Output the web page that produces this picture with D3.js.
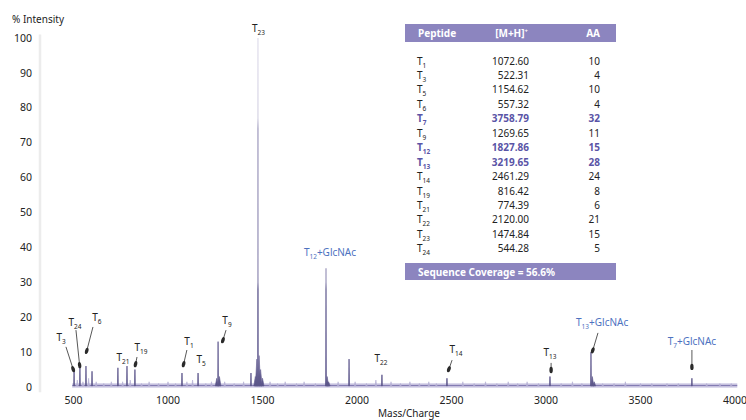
<!DOCTYPE html>
<html>
<head>
<meta charset="utf-8">
<script src="https://cdn.jsdelivr.net/npm/d3@7"></script>
<style>
body{margin:0;background:#fff}
svg{display:block;font-family:"Noto Sans",sans-serif}
</style>
</head>
<body>
<script>
// peaks (m/z, % intensity)
var peakMz  = [503, 534, 566, 598, 735, 783, 825, 1074, 1159, 1265, 1439, 1476, 1836, 1958, 2132, 2476, 3021, 3238, 3772]
var peakInt = [4.5, 5.5, 6, 4.5, 5.5, 6, 5, 4, 4, 13, 4, 100, 34, 8, 3.5, 2.5, 3, 10, 2.5]
// broad shoulders under the big peaks
var shoulderMz  = [1258, 1272, 1462, 1470, 1482, 1490, 1500, 1842, 1850, 3245, 3255]
var shoulderInt = [2.5, 3, 3, 8, 9, 5, 2.5, 3, 1.5, 3, 1.5]
// small baseline bumps
var noiseMz  = [520, 550, 580, 620, 660, 700, 760, 800, 860, 900, 950, 1000, 1040, 1100, 1130, 1200, 1230, 1300, 1350, 1400,
                1540, 1580, 1620, 1680, 1720, 1780, 1900, 1990, 2050, 2100, 2180, 2230, 2280, 2330, 2380, 2420, 2560, 2620,
                2680, 2740, 2800, 2850, 2900, 2960, 3080, 3140, 3190, 3300, 3360, 3420, 3500, 3560, 3640, 3700, 3850, 3920, 3980]
var noiseInt = [2, 1.5, 2.5, 1.5, 1, 1.5, 1.5, 2, 1, 1.5, 1, 1.5, 1, 1.5, 2, 1, 1.5, 1.5, 1, 1.5,
                1.5, 1, 1.5, 1, 1.5, 1, 1.5, 1.5, 1, 2, 1.5, 1, 1.5, 1, 1.5, 1, 1.5, 1,
                1.5, 1, 1.5, 1, 1.5, 1, 1, 1.5, 1, 1, 1, 1.5, 1, 1, 1, 1, 1, 1, 1]

var xTicks = [500, 1000, 1500, 2000, 2500, 3000, 3500, 4000]
var yTicks = [0, 10, 20, 30, 40, 50, 60, 70, 80, 90, 100]

// peak annotations: label centre and optional arrow, all in data units
var annoSub    = ["3", "24", "6", "21", "19", "1", "5", "9", "23", "12", "22", "14", "13", "13", "7"]
var annoSuffix = ["", "", "", "", "", "", "", "", "", "+GlcNAc", "", "", "", "+GlcNAc", "+GlcNAc"]
var annoMz     = [434, 508, 624, 762, 857, 1111, 1175, 1312, 1479, 1857, 2127, 2524, 3021, 3297, 3772]
var annoInt    = [14, 18.3, 19.8, 8.3, 11.2, 12.9, 7.7, 18.9, 102.6, 38.4, 8, 10.6, 9.7, 18.3, 12.9]
var arrowFromMz  = [460, 513, 603, null, 836, 1100, null, 1307, null, null, null, 2503, 3027, 3275, 3772]
var arrowFromInt = [11.5, 16.3, 17.2, null, 8.6, 10.6, null, 16.3, null, null, null, 7.7, 6.9, 15.5, 10.6]
var arrowToMz    = [503, 534, 566, null, 825, 1079, null, 1286, null, null, null, 2481, 3027, 3243, 3772]
var arrowToInt   = [4.3, 5.4, 9.5, null, 5.7, 5.7, null, 12.6, null, null, null, 4.3, 4, 9.7, 4.9]

// table
var tablePeptide = ["1", "3", "5", "6", "7", "9", "12", "13", "14", "19", "21", "22", "23", "24"]
var tableMass = ["1072.60", "522.31", "1154.62", "557.32", "3758.79", "1269.65", "1827.86", "3219.65", "2461.29", "816.42", "774.39", "2120.00", "1474.84", "544.28"]
var tableAA = [10, 4, 10, 4, 32, 11, 15, 28, 24, 8, 6, 21, 15, 5]
var tableBold = [false, false, false, false, true, false, true, true, false, false, false, false, false, false]
var coverage = "56.6%"

var W = 746, H = 420
var svg = d3.select("body").append("svg").attr("width", W).attr("height", H)

var x = d3.scaleLinear().domain([500, 4000]).range([73.5, 735])
var y = d3.scaleLinear().domain([0, 100]).range([387, 38])

var purple = "#8c85bf", boldCol = "#5a54a6", blue = "#4d72bf"

// y axis (faint)
svg.append("line").attr("x1", 40).attr("x2", 40).attr("y1", y(101)).attr("y2", y(-1.5))
    .attr("stroke", "#ececec").attr("stroke-width", 2.5)
svg.append("g").selectAll("text").data(yTicks).enter().append("text")
    .attr("x", 32).attr("y", function(d){return y(d)})
    .attr("dy", "0.35em").attr("text-anchor", "end")
    .style("font-size", "10.5px").attr("fill", "#222")
    .text(function(d){return d})
svg.append("text").attr("x", 12).attr("y", 23).style("font-size", "10px").attr("fill", "#222").text("% Intensity")

// x labels
svg.append("g").selectAll("text").data(xTicks).enter().append("text")
    .attr("x", function(d){return x(d)}).attr("y", 404)
    .attr("text-anchor", "middle").style("font-size", "10.5px").attr("fill", "#222")
    .text(function(d){return d})
svg.append("text").attr("x", 409).attr("y", 416.5).attr("text-anchor", "middle")
    .style("font-size", "10px").attr("fill", "#222").text("Mass/Charge")

// colour fades on the tall peaks
var defs = svg.append("defs")
var grad = defs.append("linearGradient").attr("id", "spec").attr("gradientUnits", "userSpaceOnUse")
    .attr("x1", 0).attr("x2", 0).attr("y1", y(0)).attr("y2", y(100))
grad.selectAll("stop").data([[0, "#5a5488"], [0.06, "#6a6496"], [0.28, "#77729f"], [0.3, "#a6a2c2"], [0.74, "#aeaac8"], [0.77, "#dcdae8"], [1, "#e4e2ee"]])
    .enter().append("stop").attr("offset", function(d){return d[0]}).attr("stop-color", function(d){return d[1]})

defs.append("marker").attr("id", "tip").attr("viewBox", "-7 -2.5 8 5")
    .attr("refX", 0).attr("refY", 0).attr("markerWidth", 8).attr("markerHeight", 5)
    .attr("markerUnits", "userSpaceOnUse").attr("orient", "auto")
    .append("ellipse").attr("cx", -3).attr("cy", 0).attr("rx", 3.2).attr("ry", 1.7).attr("fill", "#2a2a2a")

// baseline band
var base = svg.append("g")
base.append("line").attr("x1", x(493)).attr("x2", x(4012)).attr("y1", y(0.4)).attr("y2", y(0.4))
    .attr("stroke", "#dcd9ec").attr("stroke-width", 5)
base.append("line").attr("x1", x(493)).attr("x2", x(4012)).attr("y1", y(0.4)).attr("y2", y(0.4))
    .attr("stroke", "#847cb3").attr("stroke-width", 1.5)

function spike(mz, h, hw){
    return [[mz - hw, 0.3], [mz, h], [mz + hw, 0.3]]
}
var area = d3.area().x(function(d){return x(d[0])}).y0(y(0.3)).y1(function(d){return y(d[1])})

function drawPeaks(mzs, ints, hw, sw, col){
    svg.append("g").selectAll("path").data(mzs).enter().append("path")
        .attr("d", function(d, i){return area(spike(d, ints[i], hw))})
        .attr("fill", col).attr("stroke", col).attr("stroke-width", sw)
        .attr("stroke-linejoin", "round")
}
drawPeaks(noiseMz, noiseInt, 4, 0.6, "#b4aed3")
drawPeaks(shoulderMz, shoulderInt, 8, 0.6, "url(#spec)")
drawPeaks(peakMz, peakInt, 1.5, 0.9, "url(#spec)")

// annotations
var ann = svg.append("g")
annoMz.forEach(function(mz, i){
    if (arrowFromMz[i] !== null){
        ann.append("line")
            .attr("x1", x(arrowFromMz[i])).attr("y1", y(arrowFromInt[i]))
            .attr("x2", x(arrowToMz[i])).attr("y2", y(arrowToInt[i]))
            .attr("stroke", "#444").attr("stroke-width", 0.9)
            .attr("marker-end", "url(#tip)")
    }
    var col = annoSuffix[i] ? blue : "#222"
    var t = ann.append("text").attr("x", x(mz)).attr("y", y(annoInt[i]) + 3)
        .attr("text-anchor", "middle").attr("fill", col).style("font-size", "10px")
    t.append("tspan").text("T")
    t.append("tspan").attr("dy", 3).style("font-size", "6.5px").text(annoSub[i])
    if (annoSuffix[i]) t.append("tspan").attr("dy", -3).text(annoSuffix[i])
})

// peptide table
var tx0 = 405, tx1 = 616, rowY0 = 61, rowStep = 14.45
var tbl = svg.append("g").style("font-size", "10px")
tbl.append("rect").attr("x", tx0).attr("y", 24).attr("width", tx1 - tx0).attr("height", 18).attr("fill", purple)
tbl.append("text").attr("x", 418).attr("y", 36.5).attr("fill", "#fff").style("font-weight", "bold").text("Peptide")
var mh = tbl.append("text").attr("x", 528).attr("y", 36.5).attr("text-anchor", "end").attr("fill", "#fff").style("font-weight", "bold")
mh.append("tspan").text("[M+H]")
mh.append("tspan").attr("dy", -4).style("font-size", "6px").text("+")
tbl.append("text").attr("x", 600).attr("y", 36.5).attr("text-anchor", "end").attr("fill", "#fff").style("font-weight", "bold").text("AA")

var rows = tbl.selectAll("g.row").data(tablePeptide).enter().append("g")
    .attr("transform", function(d, i){return "translate(0," + (rowY0 + i * rowStep + 3.5) + ")"})
    .attr("fill", function(d, i){return tableBold[i] ? boldCol : "#222"})
    .style("font-weight", function(d, i){return tableBold[i] ? "bold" : "normal"})
var nm = rows.append("text").attr("x", 417)
nm.append("tspan").text("T")
nm.append("tspan").attr("dy", 3).style("font-size", "6.5px").text(function(d){return d})
rows.append("text").attr("x", 529).attr("text-anchor", "end").text(function(d, i){return tableMass[i]})
rows.append("text").attr("x", 600).attr("text-anchor", "end").text(function(d, i){return tableAA[i]})

tbl.append("rect").attr("x", tx0).attr("y", 263).attr("width", tx1 - tx0).attr("height", 17).attr("fill", purple)
tbl.append("text").attr("x", 418).attr("y", 275.5).attr("fill", "#fff").style("font-weight", "bold")
    .text("Sequence Coverage = " + coverage)
</script>
</body>
</html>
